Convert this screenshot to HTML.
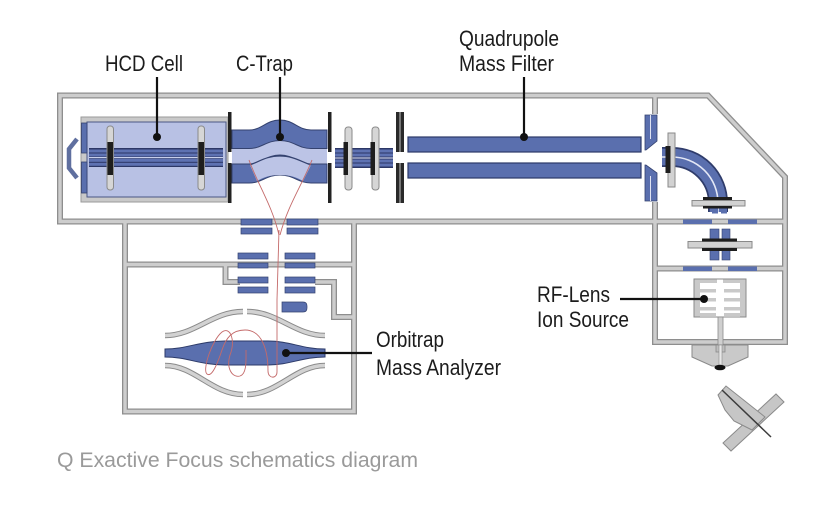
<!DOCTYPE html>
<html>
<head>
<meta charset="utf-8">
<style>
html,body{margin:0;padding:0;background:#fff;}
svg{display:block;}
text{font-family:"Liberation Sans",Arial,sans-serif;}
</style>
</head>
<body>
<svg width="840" height="517" viewBox="0 0 840 517" xmlns="http://www.w3.org/2000/svg">
<rect width="840" height="517" fill="#fff"/>

<!-- ===== Housing frame (dark edges then light fill) ===== -->
<g fill="none" stroke="#8e8e8e" stroke-width="6" stroke-linejoin="miter">
  <path d="M60,95.5 H708 L785,177 V342 H655 V221.5 H60 Z"/>
  <path d="M655,221.5 H785"/>
  <path d="M655,268.5 H785"/>
  <path d="M655,95.5 V114"/>
  <path d="M655,202 V221.5"/>
  <path d="M125,221.5 V411.5 H354 V221.5"/>
  <path d="M125,264.5 H354"/>
  <path d="M225.5,264.5 V282 H240"/>
  <path d="M315,282 H334 V317 H354"/>
</g>
<g fill="none" stroke="#cdcdcd" stroke-width="3.4" stroke-linejoin="miter">
  <path d="M60,95.5 H708 L785,177 V342 H655 V221.5 H60 Z"/>
  <path d="M655,221.5 H785"/>
  <path d="M655,268.5 H785"/>
  <path d="M655,95.5 V114"/>
  <path d="M655,202 V221.5"/>
  <path d="M125,221.5 V411.5 H354 V221.5"/>
  <path d="M125,264.5 H354"/>
  <path d="M225.5,264.5 V282 H240"/>
  <path d="M315,282 H334 V317 H354"/>
</g>

<!-- ===== HCD cell ===== -->
<path d="M77,139 L69,149 V168 L77,178" fill="none" stroke="#5f6f9f" stroke-width="4.5"/>
<rect x="81" y="117" width="147" height="85" fill="#c9c9c9" stroke="#9a9a9a" stroke-width="1"/>
<rect x="87" y="122" width="139" height="75" fill="#b8c1e4" stroke="#4a5885" stroke-width="1"/>
<rect x="81.5" y="123" width="5.5" height="30" fill="#5a6fae" stroke="#34426f" stroke-width="0.8"/>
<rect x="81.5" y="162" width="5.5" height="31" fill="#5a6fae" stroke="#34426f" stroke-width="0.8"/>
<!-- rods -->
<rect x="89" y="148" width="134" height="19" fill="#2c3766"/>
<rect x="89" y="149.5" width="134" height="3" fill="#5e72b2"/>
<rect x="89" y="153.5" width="134" height="3" fill="#5e72b2"/>
<rect x="89" y="157" width="134" height="1.2" fill="#c8cfea"/>
<rect x="89" y="158.8" width="134" height="3" fill="#5e72b2"/>
<rect x="89" y="162.8" width="134" height="3" fill="#5e72b2"/>
<!-- plates -->
<rect x="107" y="126" width="6.5" height="64" rx="3" fill="#d6d6d6" stroke="#8a8a8a" stroke-width="1"/>
<rect x="107.5" y="142" width="5.5" height="33" fill="#1e1e1e"/>
<rect x="198" y="126" width="6.5" height="64" rx="3" fill="#d6d6d6" stroke="#8a8a8a" stroke-width="1"/>
<rect x="198.5" y="142" width="5.5" height="33" fill="#1e1e1e"/>

<!-- ===== C-Trap ===== -->
<rect x="232" y="135" width="95" height="40" fill="#bcc4e6"/>
<path d="M232,130 H249 C262,130 266,120 280,120 C294,120 298,130 311,130 H327 V148.5 H311 C298,148.5 294,140.5 280,140.5 C266,140.5 262,148.5 249,148.5 H232 Z" fill="#5a6fae" stroke="#34426f" stroke-width="1"/>
<path d="M232,164 H249 C262,164 266,155 280,155 C294,155 298,164 311,164 H327 V183 H311 C298,183 294,175 280,175 C266,175 262,183 249,183 H232 Z" fill="#5a6fae" stroke="#34426f" stroke-width="1"/>
<path d="M250,165 C262,160 268,156 280,156 C292,156 298,160 311,165 L303,181 C296,177 290,175 280,175 C270,175 264,177 257,181 Z" fill="#bcc4e6"/>
<path d="M250,165 C262,160 268,156 280,156 C292,156 298,160 311,165" fill="none" stroke="#34426f" stroke-width="1.2"/>
<rect x="228" y="112" width="3.5" height="40" fill="#222"/>
<rect x="228" y="163" width="3.5" height="40" fill="#222"/>
<rect x="328" y="112" width="3.5" height="40" fill="#222"/>
<rect x="328" y="163" width="3.5" height="40" fill="#222"/>

<!-- ion path -->
<g fill="none" stroke="#c46a6a" stroke-width="0.9">
  <path d="M249,160 C258,185 272,205 279,235"/>
  <path d="M312,160 C302,185 288,205 280,235"/>
  <path d="M279,230 L277,300"/>
</g>

<!-- ===== transfer multipole ===== -->
<rect x="335" y="148" width="58" height="20" fill="#2c3766"/>
<rect x="335" y="149.5" width="58" height="3" fill="#5e72b2"/>
<rect x="335" y="153.5" width="58" height="3" fill="#5e72b2"/>
<rect x="335" y="157.4" width="58" height="1.2" fill="#c8cfea"/>
<rect x="335" y="159.5" width="58" height="3" fill="#5e72b2"/>
<rect x="335" y="163.5" width="58" height="3" fill="#5e72b2"/>
<rect x="345" y="127" width="7" height="63" rx="3" fill="#d6d6d6" stroke="#8a8a8a" stroke-width="1"/>
<rect x="343.5" y="142" width="4.5" height="33" fill="#1e1e1e"/>
<rect x="372" y="127" width="7" height="63" rx="3" fill="#d6d6d6" stroke="#8a8a8a" stroke-width="1"/>
<rect x="370.5" y="142" width="4.5" height="33" fill="#1e1e1e"/>
<!-- gate double plates -->
<rect x="396" y="112" width="8" height="40" fill="#2a2a2a"/>
<rect x="399.3" y="112" width="1.4" height="40" fill="#9a9a9a"/>
<rect x="396" y="163" width="8" height="40" fill="#2a2a2a"/>
<rect x="399.3" y="163" width="1.4" height="40" fill="#9a9a9a"/>

<!-- ===== Quadrupole ===== -->
<rect x="408" y="137" width="233" height="15" fill="#5a6fae" stroke="#2c3a68" stroke-width="1.2"/>
<rect x="408" y="163" width="233" height="15" fill="#5a6fae" stroke="#2c3a68" stroke-width="1.2"/>

<!-- exit lens -->
<path d="M645,115 H657 V141 L646,150 L645,150 Z" fill="#5a6fae" stroke="#34426f" stroke-width="0.8"/>
<path d="M645,165 L646,165 L657,173 V201 H645 Z" fill="#5a6fae" stroke="#34426f" stroke-width="0.8"/>
<line x1="650.5" y1="115" x2="650.5" y2="139" stroke="#dfe3f2" stroke-width="1"/>
<line x1="650.5" y1="176" x2="650.5" y2="201" stroke="#dfe3f2" stroke-width="1"/>

<!-- ===== bent multipole ===== -->
<path d="M662,157 H672 A46,46 0 0 1 718,203 V212" fill="none" stroke="#2f3c6b" stroke-width="20"/>
<path d="M662,157 H672 A46,46 0 0 1 718,203 V212" fill="none" stroke="#5a6fae" stroke-width="16.5"/>
<path d="M662,157 H672 A46,46 0 0 1 718,203 V212" fill="none" stroke="#e4e8f6" stroke-width="1.6"/>
<rect x="668" y="133" width="7" height="54" fill="#d2d2d2" stroke="#8a8a8a" stroke-width="1"/>
<rect x="665.5" y="146" width="5" height="27" fill="#1e1e1e"/>
<rect x="703" y="197" width="29" height="3.5" fill="#1e1e1e"/>
<rect x="692" y="200.5" width="53" height="5.5" fill="#d2d2d2" stroke="#8a8a8a" stroke-width="1"/>
<rect x="703" y="206" width="29" height="2.5" fill="#1e1e1e"/>
<rect x="712" y="208.5" width="6" height="5" fill="#5a6fae"/>
<rect x="721" y="208.5" width="6" height="5" fill="#5a6fae"/>

<!-- ===== lower right: lenses ===== -->
<rect x="683" y="219.5" width="29" height="4.5" fill="#5a6fae"/>
<rect x="728" y="219.5" width="29" height="4.5" fill="#5a6fae"/>
<rect x="683" y="266.5" width="29" height="4.5" fill="#5a6fae"/>
<rect x="728" y="266.5" width="29" height="4.5" fill="#5a6fae"/>
<rect x="710" y="229" width="9" height="31" fill="#5a6fae" stroke="#34426f" stroke-width="0.6"/>
<rect x="722" y="229" width="8" height="31" fill="#5a6fae" stroke="#34426f" stroke-width="0.6"/>
<rect x="688" y="241.5" width="64" height="6.5" fill="#d2d2d2" stroke="#8a8a8a" stroke-width="1"/>
<rect x="702" y="238.5" width="35" height="3" fill="#1e1e1e"/>
<rect x="702" y="248" width="35" height="3" fill="#1e1e1e"/>

<!-- ion source -->
<rect x="694" y="279" width="52" height="38" fill="#c9c9c9" stroke="#8a8a8a" stroke-width="1"/>
<rect x="700" y="283" width="40" height="33.5" fill="#fff"/>
<rect x="717" y="279.5" width="6" height="4" fill="#fff"/>
<rect x="700" y="289" width="16" height="3.5" fill="#c9c9c9"/>
<rect x="724" y="289" width="16" height="3.5" fill="#c9c9c9"/>
<rect x="700" y="298" width="16" height="3.5" fill="#c9c9c9"/>
<rect x="724" y="298" width="16" height="3.5" fill="#c9c9c9"/>
<rect x="700" y="307" width="16" height="3.5" fill="#c9c9c9"/>
<rect x="724" y="307" width="16" height="3.5" fill="#c9c9c9"/>
<rect x="700" y="313" width="16" height="3" fill="#c9c9c9"/>
<rect x="724" y="313" width="16" height="3" fill="#c9c9c9"/>
<rect x="718" y="317" width="5" height="30" fill="#cfcfcf" stroke="#8a8a8a" stroke-width="0.8"/>

<!-- nozzle -->
<path d="M692,345 H748 V357 L728,366 H712 L692,357 Z" fill="#c9c9c9" stroke="#8a8a8a" stroke-width="1"/>
<rect x="716" y="345" width="9" height="7" fill="#bdbdbd" stroke="#8a8a8a" stroke-width="0.8"/>
<rect x="719" y="345" width="3" height="21" fill="#e8e8e8" stroke="#8a8a8a" stroke-width="0.6"/>
<ellipse cx="720" cy="367.5" rx="5.5" ry="2.8" fill="#111"/>

<!-- spray device -->
<path d="M723,443 L731,451 L784,402 L776,394 Z" fill="#c6c6c6" stroke="#8a8a8a" stroke-width="1"/>
<path d="M718,395 L726,386 L765,417 L752,430 L734,421 L725,410 Z" fill="#c6c6c6" stroke="#8a8a8a" stroke-width="1"/>
<line x1="722" y1="390" x2="771" y2="437" stroke="#3c3c3c" stroke-width="1.5"/>

<!-- ===== Orbitrap section ===== -->
<g fill="#5a6fae" stroke="#34426f" stroke-width="0.7">
  <rect x="241" y="219" width="31" height="6"/>
  <rect x="241" y="228" width="31" height="6"/>
  <rect x="287" y="219" width="31" height="6"/>
  <rect x="287" y="228" width="31" height="6"/>
  <rect x="238" y="253" width="30" height="6"/>
  <rect x="238" y="263" width="30" height="5"/>
  <rect x="285" y="253" width="30" height="6"/>
  <rect x="285" y="263" width="30" height="5"/>
  <rect x="238" y="277" width="30" height="6"/>
  <rect x="238" y="287" width="30" height="6"/>
  <rect x="285" y="277" width="30" height="6"/>
  <rect x="285" y="287" width="30" height="6"/>
  <path d="M282,302 H303 Q307,302 307,306 V308 Q307,312 303,312 H282 Z"/>
</g>
<!-- outer electrodes -->
<g fill="none" stroke="#8a8a8a" stroke-width="5.5">
  <path d="M165,335.5 C195,335.5 212,311.5 243,311.5"/>
  <path d="M247,311.5 C278,311.5 295,335.5 325,335.5"/>
  <path d="M165,365.5 C195,365.5 212,394.5 243,394.5"/>
  <path d="M247,394.5 C278,394.5 295,365.5 325,365.5"/>
</g>
<g fill="none" stroke="#d2d2d2" stroke-width="3.5">
  <path d="M165,335.5 C195,335.5 212,311.5 243,311.5"/>
  <path d="M247,311.5 C278,311.5 295,335.5 325,335.5"/>
  <path d="M165,365.5 C195,365.5 212,394.5 243,394.5"/>
  <path d="M247,394.5 C278,394.5 295,365.5 325,365.5"/>
</g>
<!-- central electrode -->
<path d="M165,349 V357 C187,357 200,365 225,365 H268 C290,365 302,357 325,357 V349 C302,349 290,341 268,341 H225 C200,341 187,349 165,349 Z" fill="#5a6fae" stroke="#2c3a68" stroke-width="1"/>
<!-- ion loops -->
<path d="M277,300 L277,372 C277,379 268,379 268,371 C268,350 262,330 245,330 C232,330 226,338 222,350 C218,362 212,378 207,374 C202,370 212,340 222,332 C230,326 236,340 230,355 C226,368 232,378 240,376 C247,374 246,360 246,350" fill="none" stroke="#c46a6a" stroke-width="0.9"/>

<!-- ===== Leader lines ===== -->
<g stroke="#111" stroke-width="2.2" fill="none">
  <path d="M157,77 V137"/>
  <path d="M280,77 V137"/>
  <path d="M524,77 V137"/>
  <path d="M620,299 H704"/>
  <path d="M286,353 H372"/>
</g>
<g fill="#111">
  <circle cx="157" cy="137" r="4"/>
  <circle cx="280" cy="137" r="4"/>
  <circle cx="524" cy="137" r="4"/>
  <circle cx="704" cy="299" r="4"/>
  <circle cx="286" cy="353" r="4"/>
</g>

<!-- ===== Labels ===== -->
<g fill="#1c1c1c" font-size="22">
  <text x="105" y="71" textLength="78" lengthAdjust="spacingAndGlyphs">HCD Cell</text>
  <text x="236" y="71" textLength="57" lengthAdjust="spacingAndGlyphs">C-Trap</text>
  <text x="459" y="46" textLength="100" lengthAdjust="spacingAndGlyphs">Quadrupole</text>
  <text x="459" y="71" textLength="95" lengthAdjust="spacingAndGlyphs">Mass Filter</text>
  <text x="537" y="302" textLength="73" lengthAdjust="spacingAndGlyphs">RF-Lens</text>
  <text x="537" y="327" textLength="92" lengthAdjust="spacingAndGlyphs">Ion Source</text>
  <text x="376" y="347" textLength="68" lengthAdjust="spacingAndGlyphs">Orbitrap</text>
  <text x="376" y="375" textLength="125" lengthAdjust="spacingAndGlyphs">Mass Analyzer</text>
</g>
<text x="57" y="467" font-size="21" fill="#9a9a9a" textLength="361" lengthAdjust="spacingAndGlyphs">Q Exactive Focus schematics diagram</text>
</svg>
</body>
</html>
